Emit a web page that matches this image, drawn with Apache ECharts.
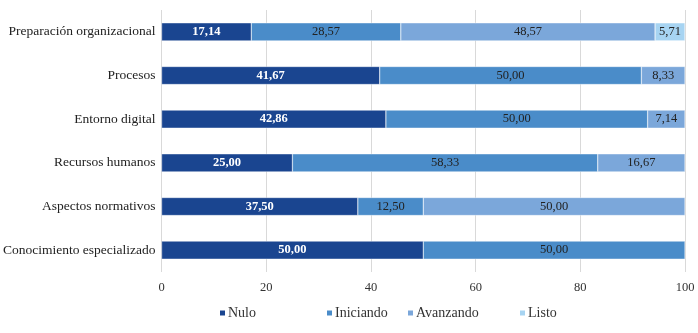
<!DOCTYPE html>
<html>
<head>
<meta charset="utf-8">
<script src="https://cdn.jsdelivr.net/npm/echarts@6/dist/echarts.min.js"></script>
<style>
  html, body { margin: 0; padding: 0; background: #fff; }
  #main { width: 698px; height: 333px; }
</style>
</head>
<body>
<div id="main"></div>
<script>
var categories = [
  "Preparación organizacional",
  "Procesos",
  "Entorno digital",
  "Recursos humanos",
  "Aspectos normativos",
  "Conocimiento especializado"
];
var seriesNames = ["Nulo", "Iniciando", "Avanzando", "Listo"];
var nulo = [17.14, 41.67, 42.86, 25.0, 37.5, 50.0];
var iniciando = [28.57, 50.0, 50.0, 58.33, 12.5, 50.0];
var avanzando = [48.57, 8.33, 7.14, 16.67, 50.0, null];
var listo = [5.71, null, null, null, null, null];
var xTicks = [0, 20, 40, 60, 80, 100];

var serifFont = "Liberation Serif";
var legendLeft = [213, 320, 401, 513];
var chart = echarts.init(document.getElementById("main"));

function fmt(p) {
  return p.value == null ? "" : p.value.toFixed(2).replace(".", ",");
}

function makeSeries(name, data, color, textColor) {
  return {
    name: name,
    type: "bar",
    stack: "total",
    barWidth: 18,
    data: data,
    itemStyle: { color: color, borderColor: "#fff", borderWidth: 0.4 },
    label: {
      show: true,
      formatter: fmt,
      color: textColor,
      fontFamily: serifFont,
      fontSize: 12.5,
      fontWeight: textColor == "#fff" ? "bold" : "normal"
    }
  };
}

// excel spaces the legend entries unevenly, so one legend per entry
var legends = seriesNames.map(function (n, i) {
  return {
    bottom: 8,
    left: legendLeft[i],
    itemWidth: 7,
    itemHeight: 7,
    itemGap: 0,
    icon: "rect",
    textStyle: { fontFamily: serifFont, fontSize: 14, color: "#333", padding: [0, 0, 0, -3] },
    data: [n]
  };
});

chart.setOption({
  backgroundColor: "#fff",
  animation: false,
  grid: { left: 160, right: 13, top: 10, bottom: 61 },
  legend: legends,
  xAxis: {
    type: "value",
    min: xTicks[0],
    max: xTicks[xTicks.length - 1],
    interval: 20,
    axisLine: { show: false },
    axisTick: { show: false },
    splitLine: { lineStyle: { color: "#d9d9d9" } },
    axisLabel: { fontFamily: serifFont, fontSize: 12.5, color: "#333", margin: 9 }
  },
  yAxis: {
    type: "category",
    inverse: true,
    data: categories,
    axisLine: { show: false },
    axisTick: { show: false },
    axisLabel: { fontFamily: serifFont, fontSize: 13.5, color: "#222", margin: 6 }
  },
  series: [
    makeSeries("Nulo", nulo, "#1a4590", "#fff"),
    makeSeries("Iniciando", iniciando, "#4a8cc9", "#222"),
    makeSeries("Avanzando", avanzando, "#7ba7da", "#222"),
    makeSeries("Listo", listo, "#a7d4f2", "#222")
  ]
});
</script>
</body>
</html>
